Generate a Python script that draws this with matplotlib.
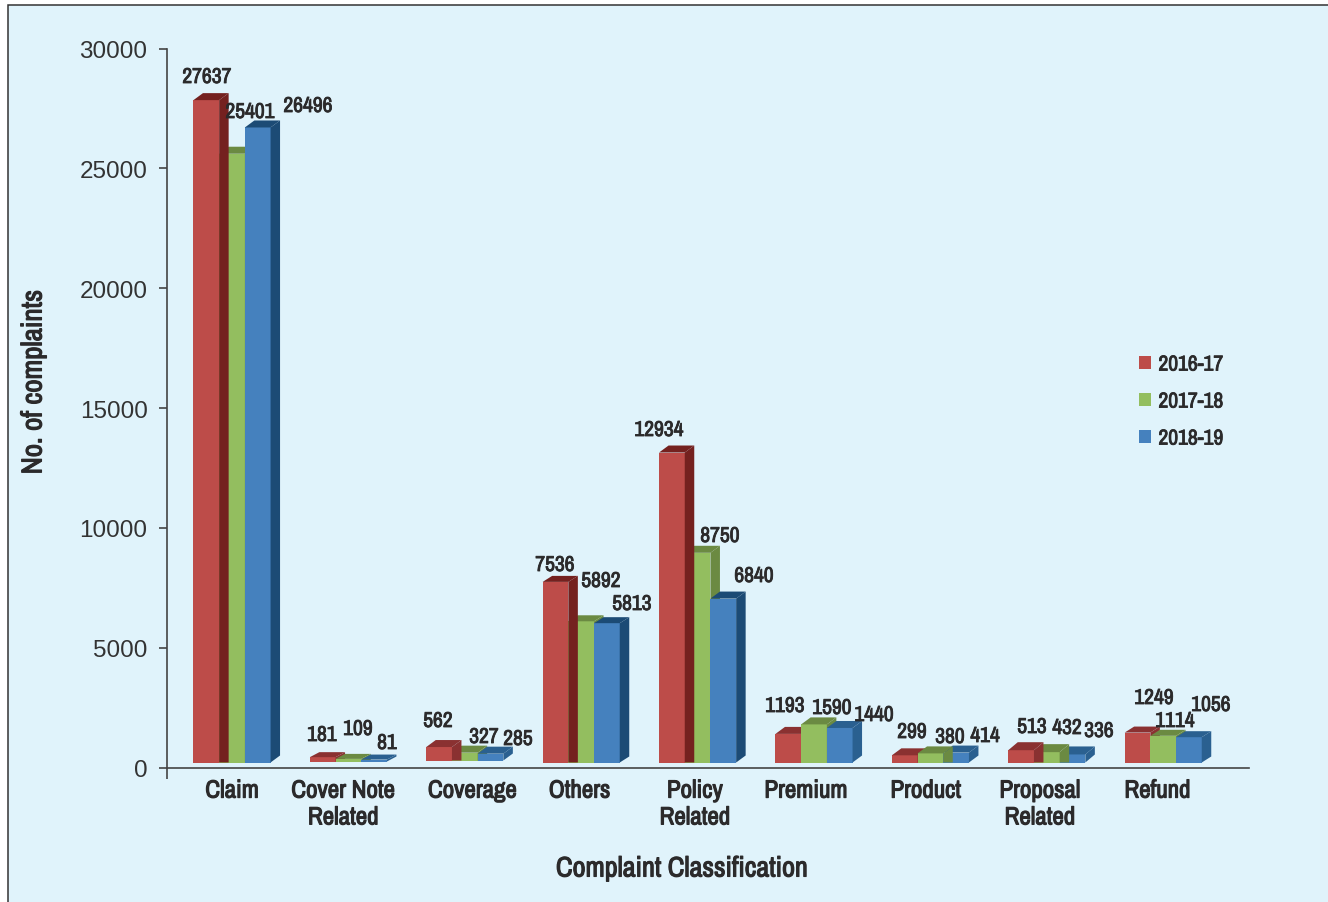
import matplotlib
matplotlib.use('Agg')
import matplotlib.pyplot as plt
import matplotlib.patheffects as pe
from matplotlib.font_manager import FontProperties
from matplotlib.patches import Patch, Polygon, Rectangle

W, H = 1328, 903

categories = ['Claim', 'Cover Note\nRelated', 'Coverage', 'Others', 'Policy\nRelated',
              'Premium', 'Product', 'Proposal\nRelated', 'Refund']
years = ['2016-17', '2017-18', '2018-19']
v2016 = [27637, 181, 562, 7536, 12934, 1193, 299, 513, 1249]
v2017 = [25401, 109, 327, 5892, 8750, 1590, 380, 432, 1114]
v2018 = [26496, 81, 285, 5813, 6840, 1440, 414, 336, 1056]
series = [v2016, v2017, v2018]

front_colors = ['#BD4C49', '#93BE5F', '#4581BE']
dark_sides = ['#74211F', '#6B8A42', '#1C4B75']
soft_sides = ['#8A3131', '#6B8A42', '#2A6090']
uses_dark = [True, False, False, True, True, False, False, False, False]

# paint order of the three bars in each group
draw_order = [(1, 0, 2), (0, 1, 2), (1, 0, 2), (1, 0, 2), (1, 0, 2),
              (0, 1, 2), (2, 0, 1), (2, 1, 0), (0, 1, 2)]
depth_y = [7, 5, 7, 6, 7, 7, 7, 8, 6]
floor_px = [5, 6, 7, 5, 5, 5, 5, 5, 5]

# hand placed text centres, in pixels from the top left
label_x = [[207, 322, 438, 555, 659, 785, 912, 1032, 1154],
           [250, 358, 484, 601, 720, 832, 950, 1067, 1175],
           [308, 387, 518, 632, 754, 874, 985, 1099, 1211]]
label_y = [[78, 736, 722, 566, 431, 707, 733, 728, 699],
           [113, 730, 738, 582, 537, 709, 738, 729, 722],
           [107, 744, 740, 605, 577, 716, 737, 732, 706]]
tick_pos = [0, 0.955, 2.065, 2.986, 3.976, 4.93, 5.96, 6.94, 7.95]

narrow = ['Archivo Narrow', 'Roboto Condensed', 'Liberation Sans', 'DejaVu Sans']
plain = ['Liberation Sans', 'DejaVu Sans']
ink = '#2B2A2B'
# the narrow face only comes in one weight, so thicken it with an outline
heavy = [pe.withStroke(linewidth=0.8, foreground=ink)]
heavy_small = [pe.withStroke(linewidth=0.6, foreground=ink)]

px_cat = 116.4
px_val = 719 / 30000
bar_w = 25.7 / px_cat
depth_x = 9.5 / px_cat

fig = plt.figure(figsize=(W / 100, H / 100), dpi=100, facecolor='white')
fig.add_artist(Rectangle((8 / W, -0.01), 1.01, 1.01 - 5.5 / H, transform=fig.transFigure,
                         facecolor='#E0F3FB', edgecolor='#333333', linewidth=1.1, zorder=-1))

ax = fig.add_axes([167 / W, 1 - 768.5 / H, (1249 - 167) / W, 719 / H])
ax.patch.set_visible(False)
ax.set_xlim((167 - 232) / px_cat, (1249 - 232) / px_cat)
ax.set_ylim(0, 30000)

for i in range(len(categories)):
    dy = depth_y[i] / px_val
    floor = floor_px[i] / px_val
    for j in draw_order[i]:
        val = series[j][i]
        left = i + (j - 1.5) * bar_w
        right = left + bar_w
        top = val + floor
        dark = dark_sides[j] if uses_dark[i] else soft_sides[j]
        # only the last bar of a group shows the slanted foot of its side face
        foot = floor + dy if j == 2 else floor
        ax.bar(left, val, bar_w, bottom=floor, align='edge', color=front_colors[j],
               linewidth=0, zorder=3)
        ax.add_patch(Polygon([(left, top), (right, top), (right + depth_x, top + dy),
                              (left + depth_x, top + dy)], closed=True, facecolor=dark,
                             linewidth=0, zorder=3))
        ax.add_patch(Polygon([(right, floor), (right + depth_x, foot),
                              (right + depth_x, top + dy), (right, top)], closed=True,
                             facecolor=dark, linewidth=0, zorder=3))

for j, vals in enumerate(series):
    for i, val in enumerate(vals):
        fig.text(label_x[j][i] / W, 1 - label_y[j][i] / H, str(val), ha='center', va='center',
                 family=narrow, fontsize=15.5, color=ink, zorder=6, path_effects=heavy_small)

for side in ['top', 'right']:
    ax.spines[side].set_visible(False)
for side in ['left', 'bottom']:
    ax.spines[side].set_color('#444444')
    ax.spines[side].set_linewidth(1.2)

ax.set_yticks(range(0, 30001, 5000))
ax.tick_params(axis='y', length=6, width=1.2, color='#444444', pad=8, labelsize=17.5,
               labelcolor='#333333')
for t in ax.get_yticklabels():
    t.set_family(plain)

ax.set_xticks(tick_pos)
ax.set_xticklabels(categories, family=narrow, fontsize=18, color=ink, linespacing=1.2,
                   path_effects=heavy)
ax.tick_params(axis='x', length=0, pad=8)
ax.set_xticks([ax.get_xlim()[0]], minor=True)
ax.tick_params(axis='x', which='minor', length=8, width=1.2, color='#444444')

fig.text(682 / W, 1 - 870 / H, 'Complaint Classification', ha='center', va='center',
         family=narrow, fontsize=20.3, color=ink, path_effects=heavy)
fig.text(33 / W, 1 - 383 / H, 'No. of complaints', ha='center', va='center', rotation=90,
         family=narrow, fontsize=20.8, color=ink, path_effects=heavy)

handles = [Patch(facecolor=c, linewidth=0, label=y) for c, y in zip(front_colors, years)]
leg = ax.legend(handles=handles, loc='center left', bbox_to_anchor=(0.898, 0.509), frameon=False,
                prop=FontProperties(family=narrow, size=15.5), handlelength=0.56,
                handleheight=0.56, handletextpad=0.36, labelspacing=0.79, borderpad=0,
                borderaxespad=0)
for t in leg.get_texts():
    t.set_color(ink)
    t.set_path_effects(heavy_small)

fig.savefig('out.png', dpi=100)
